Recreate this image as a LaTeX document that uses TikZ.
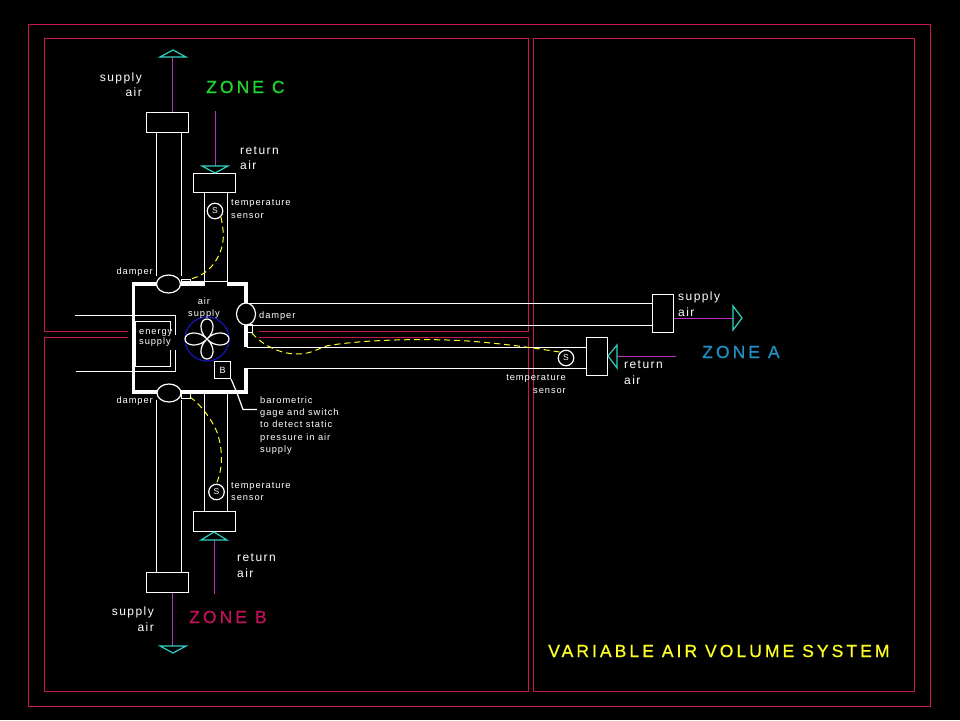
\documentclass[tikz,border=0pt]{standalone}
\usepackage{fontspec}
\newfontfamily\cadbig[LetterSpace=17,FakeBold=0.6]{Liberation Sans}
\newfontfamily\cadmid[LetterSpace=12]{Liberation Sans}
\newfontfamily\cadsmall[LetterSpace=10]{Liberation Sans}
\definecolor{framered}{RGB}{200,24,78}
\definecolor{pipecyan}{RGB}{48,208,192}
\definecolor{linemag}{RGB}{192,48,192}
\definecolor{fanblue}{RGB}{20,20,170}
\definecolor{zonegreen}{RGB}{28,215,44}
\definecolor{zonepink}{RGB}{192,16,90}
\definecolor{zoneblue}{RGB}{30,143,192}
\definecolor{titleyellow}{RGB}{255,255,40}
\tikzset{
  frame/.style={draw=framered,line width=1.2pt},
  duct/.style={draw=white,line width=1.2pt},
  wall/.style={draw=white,line width=3.8pt},
  grille/.style={draw=white,line width=1.2pt,fill=black,rectangle,inner sep=0pt,minimum width=#1},
  damperv/.style={draw=white,line width=1.2pt,fill=black,ellipse,inner sep=0pt,minimum width=24pt,minimum height=18pt},
  damperh/.style={draw=white,line width=1.2pt,fill=black,ellipse,inner sep=0pt,minimum width=19pt,minimum height=22pt},
  sensor/.style={draw=white,line width=1.2pt,circle,inner sep=0pt,minimum size=15.5pt,text=white,font=\cadsmall\fontsize{8.5}{9}\selectfont},
  flow/.style={draw=linemag,line width=1.3pt},
  tip/.style={draw=pipecyan,line width=1.2pt},
  ctrl/.style={draw=titleyellow,line width=1pt,dash pattern=on 6pt off 4pt},
  big/.style={inner sep=0pt,font=\cadbig\fontsize{17.6}{20}\selectfont},
  lab/.style={inner sep=0pt,text=white,font=\cadmid\fontsize{12}{15.5}\selectfont},
  tiny/.style={inner sep=0pt,text=white,font=\cadsmall\fontsize{9.3}{12.3}\selectfont},
}
\usetikzlibrary{shapes.geometric}
\begin{document}
\begin{tikzpicture}[x=1pt,y=-1pt]
\useasboundingbox (0,0) rectangle (960,720);
\fill[black] (0,0) rectangle (960,720);
% frames
\draw[frame] (28.5,24.5) rectangle (930.5,706.5);
\draw[frame] (128,331.5) -- (44.5,331.5) -- (44.5,38.5) -- (528.5,38.5) -- (528.5,331.5) -- (259,331.5);
\draw[frame] (128,337.5) -- (44.5,337.5) -- (44.5,691.5) -- (528.5,691.5) -- (528.5,337.5) -- (259,337.5);
\draw[frame] (533.5,38.5) rectangle (914.5,691.5);
% grilles
\node[grille=42pt,minimum height=20pt] (boxCs) at (167.5,122.5) {};
\node[grille=42pt,minimum height=19pt] (boxCr) at (214.5,183) {};
\node[grille=42pt,minimum height=20pt] (boxBs) at (167.5,582.5) {};
\node[grille=42pt,minimum height=20pt] (boxBr) at (214.5,521.5) {};
\node[grille=21pt,minimum height=38pt] (boxAs) at (663,313.5) {};
\node[grille=21pt,minimum height=38pt] (boxAr) at (597,356.5) {};
% ducts
\draw[duct] (156.5,132) -- (156.5,276) (181.5,132) -- (181.5,276);
\draw[duct] (204.5,192) -- (204.5,281) (227.5,192) -- (227.5,281);
\draw[duct] (156.5,400) -- (156.5,572) (181.5,400) -- (181.5,572);
\draw[duct] (204.5,392) -- (204.5,511) (227.5,392) -- (227.5,511);
\draw[duct] (250,303.5) -- (652,303.5) (247,325.5) -- (652,325.5);
\draw[duct] (247,347.5) -- (586,347.5) (247,368.5) -- (586,368.5);
% air supply room walls
\draw[wall] (205,284) -- (133.5,284) -- (133.5,392) -- (246,392) -- (246,368);
\draw[wall] (227,284) -- (246,284) -- (246,303);
\draw[wall] (246,325) -- (246,347);
\draw[duct] (181,281.5) -- (228,281.5);
\draw[duct] (181.5,279.5) rectangle (190.5,284);
\draw[duct] (181.5,392) rectangle (190.5,398.5);
\draw[duct] (247.5,325) rectangle (252.5,332.5);
% dampers
\node[damperv] (damperC) at (168.5,284) {};
\node[damperv] (damperB) at (169,393) {};
\node[damperh] (damperA) at (246,314) {};
% energy supply
\draw[duct] (75,315.5) -- (175.5,315.5) -- (175.5,335);
\draw[duct] (76,371.5) -- (175.5,371.5) -- (175.5,350);
\draw[duct] (170.5,331) -- (170.5,321.5) -- (135.5,321.5) -- (135.5,366.5) -- (170.5,366.5) -- (170.5,350);
% fan
\draw[draw=fanblue,line width=1.3pt] (207,339) circle (22);
\draw[duct] (207,339) .. controls (198,331) and (200,319) .. (207,319) .. controls (214,319) and (216,331) .. (207,339)
  .. controls (215,330) and (229,332) .. (229,339) .. controls (229,346) and (215,348) .. (207,339)
  .. controls (216,347) and (214,359) .. (207,359) .. controls (200,359) and (198,347) .. (207,339)
  .. controls (199,348) and (185,346) .. (185,339) .. controls (185,332) and (199,330) .. (207,339);
% barometric gage
\node[draw=white,line width=1.2pt,fill=black,rectangle,inner sep=0pt,minimum width=16pt,minimum height=17pt,text=white,font=\cadsmall\fontsize{9}{9}\selectfont] (gage) at (222.5,370) {B};
\coordinate (gageLead) at (257,409.5);
\draw[duct] (gage.south east) -- (237,393) -- (243,409.5) -- (gageLead);
% sensors
\node[sensor] (sensC) at (215,211) {S};
\node[sensor] (sensB) at (216.5,492) {S};
\node[sensor] (sensA) at (566,358) {S};
% control lines
\draw[ctrl] (sensC.south east) .. controls (224,232) and (226,245) .. (215,262) .. controls (209,271) and (200,277) .. (190,279);
\draw[ctrl] (190,397) .. controls (200,404) and (211,418) .. (217,432) .. controls (222,447) and (224,465) .. (sensB.north);
\draw[ctrl] (252,333) .. controls (262,345) and (280,354) .. (297,354) .. controls (315,354) and (320,346) .. (332,345) .. controls (370,339) and (440,338) .. (480,342) .. controls (515,345) and (540,349) .. (sensA.north west);
% flow arrows
\coordinate (tipCs) at (172.5,57);
\coordinate (tipCr) at (215.5,111);
\coordinate (tipBs) at (172.5,646);
\coordinate (tipBr) at (214.5,594);
\coordinate (tipAs) at (733,318.5);
\coordinate (tipAr) at (676,356.5);
\draw[flow] (boxCs.north -| tipCs) -- (tipCs);
\draw[tip] (160,57) -- (173,50) -- (186,57) -- cycle;
\draw[flow] (tipCr) -- (215.5,166);
\draw[tip] (202,166) -- (228,166) -- (215,173) -- cycle;
\draw[flow] (boxBs.south -| tipBs) -- (tipBs);
\draw[tip] (160,646) -- (186,646) -- (173,653) -- cycle;
\draw[flow] (tipBr) -- (214.5,540);
\draw[tip] (201,540) -- (227,540) -- (214,532) -- cycle;
\draw[flow] (boxAs.east |- tipAs) -- (tipAs);
\draw[tip] (733,306) -- (733,330) -- (742,318) -- cycle;
\draw[flow] (tipAr) -- (617,356.5);
\draw[tip] (617,345) -- (617,368) -- (608,356) -- cycle;
% labels
\node[lab,anchor=east,align=right] (l1) at (142,84.5) {supply\\air};
\node[lab,anchor=east,align=right] (l2) at (154,619) {supply\\air};
\node[lab,anchor=west,align=left] (l3) at (678,304) {supply\\air};
\node[lab,anchor=west,align=left] (l4) at (624,372.5) {return\\air};
\node[lab,anchor=west,align=left] (l5) at (240,158) {return\\air};
\node[lab,anchor=west,align=left] (l6) at (237,565.5) {return\\air};
\node[tiny,anchor=west,align=left] (l7) at (231,209) {temperature\\sensor};
\node[tiny,anchor=west,align=left] (l8) at (231,491.5) {temperature\\sensor};
\node[tiny,anchor=east,align=right] (l9) at (566,384) {temperature\\sensor};
\node[tiny,anchor=east] (d1) at (153,272.5) {damper};
\node[tiny,anchor=east] (d2) at (153,401.5) {damper};
\node[tiny,anchor=west] (d3) at (259,316.5) {damper};
\node[tiny,align=center] (t1) at (204,308) {air\\supply};
\node[tiny,anchor=west,align=left,font=\cadsmall\fontsize{9.3}{10.5}\selectfont] (t2) at (139,338) {energy\\supply};
\node[tiny,anchor=west,align=left] (t3) at (260,425.5) {barometric\\gage and switch\\to detect static\\pressure in air\\supply};
\node[big,anchor=west,text=zonegreen] (zc) at (206,87) {ZONE C};
\node[big,anchor=west,text=zoneblue] (za) at (702,352) {ZONE A};
\node[big,anchor=west,text=zonepink] (zb) at (189,617) {ZONE B};
\node[big,anchor=west,text=titleyellow] (ttl) at (548,651) {VARIABLE AIR VOLUME SYSTEM};
\end{tikzpicture}
\end{document}
